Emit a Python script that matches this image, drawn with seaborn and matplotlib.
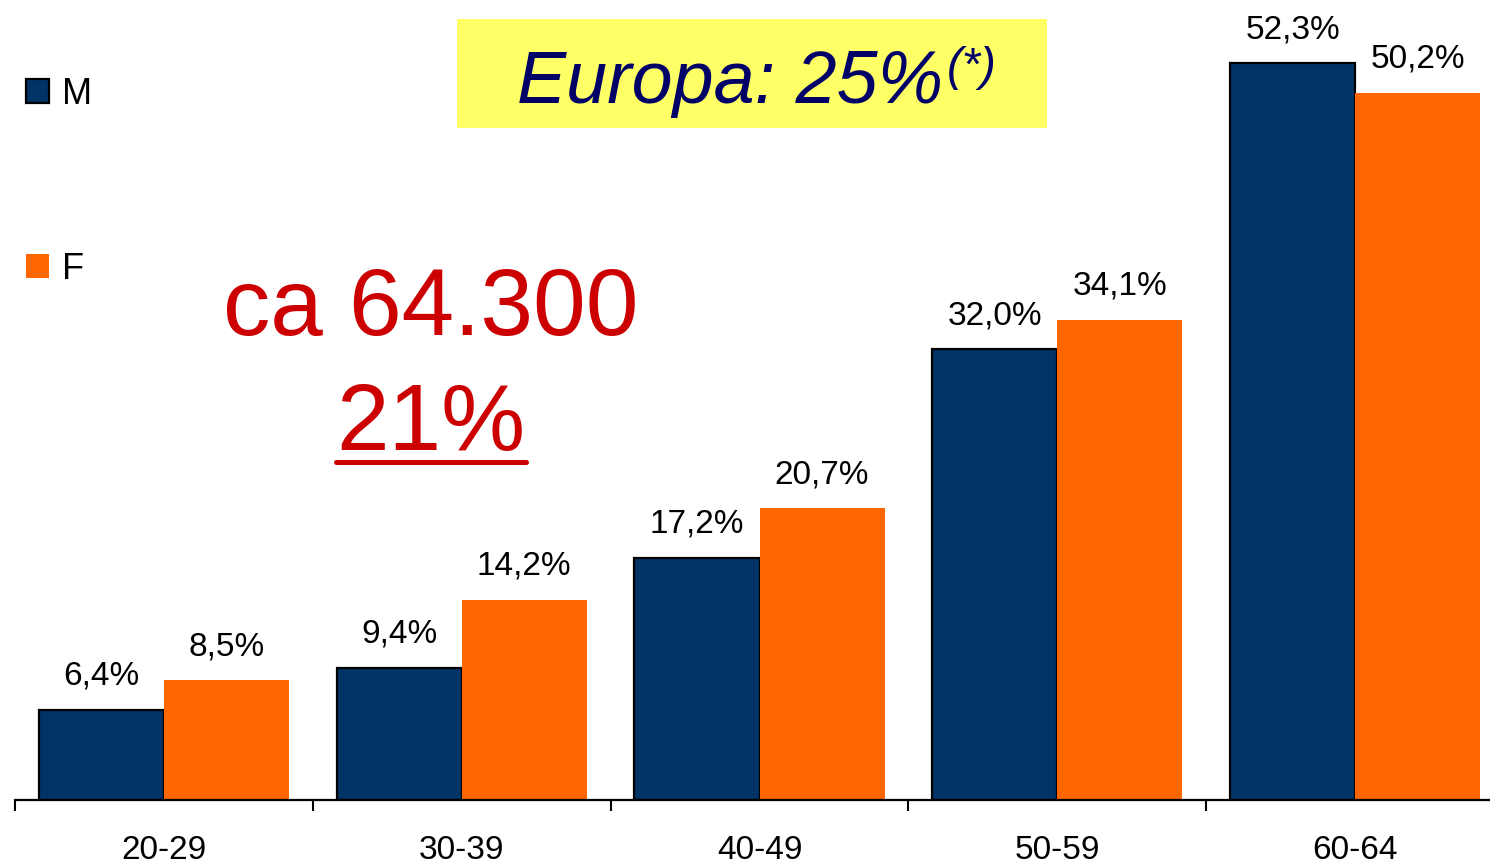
import matplotlib
matplotlib.use('Agg')
import matplotlib.pyplot as plt
import seaborn as sns
import pandas as pd
from matplotlib.patches import Patch, Rectangle
from matplotlib.lines import Line2D
from matplotlib.ticker import FixedLocator

# ── Data ────────────────────────────────────────────────
age_groups = ['20-29', '30-39', '40-49', '50-59', '60-64']
male       = [6.4, 9.4, 17.2, 32.0, 52.3]
female     = [8.5, 14.2, 20.7, 34.1, 50.2]
sexes      = ['M', 'F']

df = pd.DataFrame({
    'age':   age_groups * 2,
    'sex':   ['M'] * len(age_groups) + ['F'] * len(age_groups),
    'value': male + female,
})

NAVY   = '#003366'
ORANGE = '#FF6600'
RED    = '#CC0000'

sns.set_theme(style='white')
plt.rcParams['font.family'] = ['Liberation Sans', 'DejaVu Sans']
plt.rcParams['text.color'] = 'black'

W, H = 1490, 865
fig = plt.figure(figsize=(W / 100, H / 100), dpi=100)
ax = fig.add_axes([15 / W, 65 / H, 1489 / W, 800 / H])

sns.barplot(data=df, x='age', y='value', hue='sex', hue_order=sexes,
            palette={'M': NAVY, 'F': ORANGE}, width=0.84, saturation=1,
            legend=False, ax=ax)

for bar in ax.containers[0]:
    bar.set_edgecolor('black')
    bar.set_linewidth(1.6)
for bar in ax.containers[1]:
    bar.set_linewidth(0)

# value labels with decimal comma
for cont, vals in zip(ax.containers, [male, female]):
    ax.bar_label(cont, labels=[f'{v:.1f}%'.replace('.', ',') for v in vals],
                 padding=13, fontsize=24, color='black')

ax.set_xlim(-0.5, len(age_groups) - 0.5)
ax.set_ylim(0, 56.8)
ax.set_xlabel('')
ax.set_ylabel('')
ax.set_yticks([])
for s in ['left', 'top', 'right']:
    ax.spines[s].set_visible(False)
ax.spines['bottom'].set_color('black')
ax.spines['bottom'].set_linewidth(1.6)

ax.xaxis.set_minor_locator(FixedLocator([i - 0.5 for i in range(len(age_groups) + 1)]))
ax.tick_params(axis='x', which='major', length=0, pad=25, labelsize=24, labelcolor='black')
ax.tick_params(axis='x', which='minor', length=8, width=1.5, color='black',
               direction='out', bottom=True)

# legend
handles = [Patch(facecolor=NAVY, edgecolor='black', linewidth=1.6, label='M'),
           Patch(facecolor=ORANGE, edgecolor='none', label='F')]
fig.legend(handles=handles, loc='upper left', bbox_to_anchor=(26 / W, 1 - 77 / H),
           frameon=False, fontsize=26, handlelength=0.65, handleheight=0.65,
           handletextpad=0.35, labelspacing=3.87, borderpad=0, borderaxespad=0,
           labelcolor='black')

# yellow header box
fig.add_artist(Rectangle((457 / W, 1 - 128 / H), 590 / W, 109 / H,
                         transform=fig.transFigure, facecolor='#FFFF66',
                         edgecolor='none', zorder=1))
t_eu = fig.text(517 / W, 1 - 103 / H, 'Europa: 25%', fontsize=53, style='italic',
                color='#000066', ha='left', va='baseline', zorder=2)
fig.canvas.draw()
bb = t_eu.get_window_extent()
fig.text((bb.x1 + 4) / W, 1 - 80 / H, '(*)', fontsize=34, style='italic',
         color='#000066', ha='left', va='baseline', zorder=2)

# red annotation
fig.text(431 / W, 1 - 335 / H, 'ca 64.300', fontsize=68, color=RED,
         ha='center', va='baseline')
t21 = fig.text(431 / W, 1 - 450 / H, '21%', fontsize=68, color=RED,
               ha='center', va='baseline')
fig.canvas.draw()
bb = t21.get_window_extent()
fig.add_artist(Line2D([bb.x0 / W, bb.x1 / W], [1 - 462 / H, 1 - 462 / H],
                      transform=fig.transFigure, color=RED, linewidth=3.6))

fig.savefig('out.png', dpi=100)
